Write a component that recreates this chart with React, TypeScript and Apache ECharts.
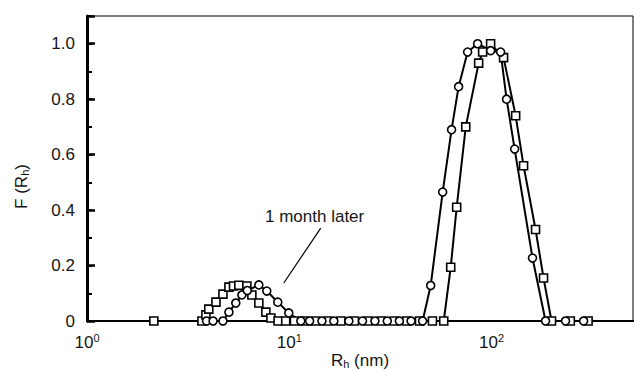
import { useEffect, useRef } from 'react';
import * as echarts from 'echarts';

// Series drawn with squares (original sample)
const squareRh = [2.14, 3.7, 3.87, 4.0, 4.34, 4.7, 5.03, 5.3, 5.63, 6.17, 6.53, 7.07, 7.66, 8.11, 8.8, 9.6, 10.6, 11.9, 13.5, 15.5, 18.0, 21.0, 24.5, 28.5, 33.0, 38.0, 44.0, 51.0, 58.0, 62.8, 67.2, 74.5, 86.3, 90.3, 98.9, 114.6, 131.5, 143.9, 164.9, 180.6, 197.8, 245, 300];
const squareF = [0, 0, 0.022, 0.043, 0.068, 0.097, 0.122, 0.126, 0.129, 0.126, 0.094, 0.065, 0.032, 0.011, 0, 0, 0, 0, 0, 0, 0, 0, 0, 0, 0, 0, 0, 0, 0, 0.194, 0.41, 0.70, 0.93, 0.97, 1.0, 0.95, 0.74, 0.56, 0.33, 0.155, 0, 0, 0];

// Series drawn with circles (1 month later)
const circleRh = [3.9, 4.2, 4.7, 5.03, 5.44, 5.83, 6.2, 7.07, 7.74, 8.77, 9.94, 11.4, 12.6, 14.5, 16.6, 19.7, 23.0, 26.5, 30.5, 35.0, 40.0, 45.6, 50.0, 57.3, 63.4, 68.7, 76.1, 85.3, 98.9, 110.8, 118.6, 130.0, 159.3, 184.8, 232, 285];
const circleF = [0, 0, 0, 0.032, 0.065, 0.094, 0.11, 0.13, 0.108, 0.068, 0.029, 0, 0, 0, 0, 0, 0, 0, 0, 0, 0, 0, 0.128, 0.465, 0.69, 0.845, 0.97, 1.0, 0.975, 0.97, 0.80, 0.62, 0.227, 0, 0, 0];

// Annotation arrow (data coordinates: [Rh, F])
const arrowStart = [14.3, 0.335];
const arrowEnd = [9.39, 0.137];
const annotationText = '1 month later';

const xMin = 1;
const xMax = 500;
const yMax = 1.1;

export default function App() {
  const ref = useRef<HTMLDivElement>(null);
  useEffect(() => {
    const chart = echarts.init(ref.current!, null, { renderer: 'svg' });
    const font = "'Liberation Sans', Arial, Helvetica, sans-serif";
    const txt = '#151515';
    chart.setOption({
      animation: false,
      backgroundColor: '#fff',
      grid: { left: 87, right: 1, top: 16, bottom: 49, show: true, borderColor: '#000', borderWidth: 1, backgroundColor: 'transparent', outerBoundsMode: 'none', containLabel: false },
      xAxis: [
        {
          type: 'log', logBase: 10, min: xMin, max: xMax,
          name: 'R{sub|h} (nm)', nameLocation: 'middle', nameGap: 31, nameMoveOverlap: false,
          nameTextStyle: { fontFamily: font, fontSize: 17, color: txt, rich: { sub: { fontFamily: font, fontSize: 11, color: txt, padding: [6, 0, 0, 0] } } },
          axisLine: { lineStyle: { color: '#000', width: 2 } },
          axisTick: { show: false },
          minorTick: { show: false },
          splitLine: { show: false },
          axisLabel: {
            fontFamily: font, fontSize: 17, color: txt, margin: 11,
            formatter: (v: number) => {
              const p = Math.log10(v);
              const r = Math.round(p);
              if (Math.abs(p - r) > 1e-6) return '';
              return `10{sup|${r}}`;
            },
            rich: { sup: { fontFamily: font, fontSize: 11, color: txt, padding: [0, 0, 9, 0] } },
          },
        },
        {
          type: 'log', logBase: 10, min: xMin, max: xMax, position: 'top',
          axisLine: { lineStyle: { color: '#000', width: 2 } },
          axisTick: { show: false }, axisLabel: { show: false }, splitLine: { show: false },
        },
      ],
      yAxis: [
        {
          type: 'value', min: 0, max: yMax, interval: 0.2,
          name: 'F (R{sub|h})', nameLocation: 'middle', nameGap: 57, nameMoveOverlap: false,
          nameTextStyle: { fontFamily: font, fontSize: 17, color: txt, padding: [0, 36, 0, 0], rich: { sub: { fontFamily: font, fontSize: 11, color: txt, padding: [6, 0, 0, 0] } } },
          axisLine: { lineStyle: { color: '#000', width: 3 } },
          axisTick: { inside: true, length: 8, lineStyle: { color: '#000', width: 2.5 } },
          splitLine: { show: false },
          axisLabel: {
            fontFamily: font, fontSize: 17, color: txt, margin: 12,
            formatter: (v: number) => (v === 0 ? '0' : v > 1.05 ? '' : v.toFixed(1)),
          },
        },
        {
          type: 'value', min: 0, max: yMax, interval: 0.1, position: 'left',
          axisLine: { show: false },
          axisTick: { inside: true, length: 5, lineStyle: { color: '#000', width: 2 } },
          axisLabel: { show: false }, splitLine: { show: false },
        },
      ],
      graphic: [
        { type: 'text', left: 265, top: 208, style: { text: annotationText, font: `17px ${font}`, fill: txt } },
      ],
      series: [
        {
          type: 'line', xAxisIndex: 0, yAxisIndex: 0,
          data: squareRh.map((x, i) => [x, squareF[i]]),
          symbol: 'rect', symbolSize: 8,
          itemStyle: { color: '#fff', borderColor: '#000', borderWidth: 1.6 },
          lineStyle: { color: '#000', width: 2 },
        },
        {
          type: 'line', xAxisIndex: 0, yAxisIndex: 0,
          data: circleRh.map((x, i) => [x, circleF[i]]),
          symbol: 'circle', symbolSize: 8,
          itemStyle: { color: '#fff', borderColor: '#000', borderWidth: 1.6 },
          lineStyle: { color: '#000', width: 2 },
          markLine: {
            silent: true, symbol: ['none', 'arrow'], symbolSize: [0, 9],
            lineStyle: { color: '#000', width: 1.2, type: 'solid' },
            label: { show: false },
            data: [[{ coord: arrowStart }, { coord: arrowEnd }]],
          },
        },
      ],
    });
    return () => chart.dispose();
  }, []);
  return <div ref={ref} style={{ position: 'fixed', left: 0, top: 0, width: 634, height: 370, background: '#fff' }} />;
}
